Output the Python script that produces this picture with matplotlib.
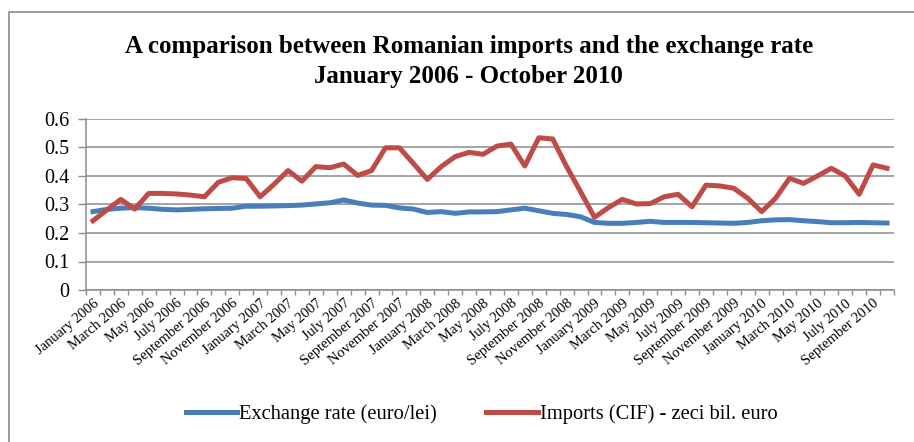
import matplotlib.pyplot as plt
from matplotlib.patches import Rectangle

months = ['January', 'February', 'March', 'April', 'May', 'June', 'July',
          'August', 'September', 'October', 'November', 'December']
periods = [f'{m} {y}' for y in range(2006, 2011) for m in months][:58]

exchange_rate = [0.275, 0.283, 0.287, 0.289, 0.287, 0.283, 0.281, 0.283, 0.285, 0.286,
                 0.287, 0.294, 0.294, 0.295, 0.296, 0.298, 0.302, 0.306, 0.316, 0.305,
                 0.298, 0.297, 0.288, 0.284, 0.272, 0.275, 0.269, 0.274, 0.274, 0.275,
                 0.281, 0.287, 0.278, 0.269, 0.265, 0.257, 0.237, 0.234, 0.234, 0.237,
                 0.241, 0.237, 0.237, 0.237, 0.236, 0.235, 0.234, 0.237, 0.243, 0.246,
                 0.247, 0.243, 0.240, 0.236, 0.236, 0.237, 0.236, 0.235]

imports = [0.243, 0.281, 0.318, 0.284, 0.339, 0.339, 0.337, 0.333, 0.327, 0.378,
           0.394, 0.391, 0.327, 0.371, 0.419, 0.382, 0.433, 0.429, 0.442, 0.402,
           0.419, 0.499, 0.499, 0.444, 0.388, 0.433, 0.468, 0.483, 0.476, 0.505,
           0.512, 0.435, 0.534, 0.530, 0.433, 0.345, 0.255, 0.289, 0.318, 0.302,
           0.303, 0.327, 0.336, 0.292, 0.368, 0.365, 0.357, 0.322, 0.275, 0.322,
           0.392, 0.374, 0.400, 0.427, 0.400, 0.336, 0.439, 0.427]

plt.rcParams['font.family'] = ['Liberation Serif', 'DejaVu Serif']

fig = plt.figure(figsize=(9.14, 4.42), dpi=100)
ax = fig.add_axes([86/914, 1-290/442, 808/914, 171/442])

# outer chart frame
fig.patches.append(Rectangle((9/914, -0.1), 1.1, 1-12/442+0.1, transform=fig.transFigure,
                             fill=False, edgecolor='#8c8c8c', linewidth=1.2))

x = list(range(len(periods)))
ax.plot(x, exchange_rate, color='#4A7EBB', linewidth=3.6, solid_joinstyle='round',
        label='Exchange rate (euro/lei)')
ax.plot(x, imports, color='#BE4B48', linewidth=3.6, solid_joinstyle='round',
        label='Imports (CIF) - zeci bil. euro')

ax.set_xlim(-0.5, len(periods) - 0.5)
ax.set_ylim(0, 0.6)
ax.set_yticks([0, 0.1, 0.2, 0.3, 0.4, 0.5, 0.6])
ax.set_yticklabels(['0', '0.1', '0.2', '0.3', '0.4', '0.5', '0.6'], fontsize=14.5)
ax.grid(axis='y', color='#8c8c8c', linewidth=1.1)
ax.set_axisbelow(True)

# tick marks between categories, labels every second month
ax.set_xticks([i - 0.5 for i in range(len(periods) + 1)])
ax.set_xticklabels([])
ax.set_xticks(x[::2], minor=True)
ax.set_xticklabels(periods[::2], minor=True, rotation=40, ha='right',
                   rotation_mode='anchor', fontsize=10.5)
ax.tick_params(axis='x', which='major', length=3.5, color='#8c8c8c', width=1)
ax.tick_params(axis='x', which='minor', length=0, pad=5)
ax.tick_params(axis='y', length=6, color='#8c8c8c', width=1, pad=6)

for side in ['top', 'right']:
    ax.spines[side].set_visible(False)
for side in ['left', 'bottom']:
    ax.spines[side].set_color('#8c8c8c')
    ax.spines[side].set_linewidth(1.1)

fig.text(0.513, 1-53/442, 'A comparison between Romanian imports and the exchange rate',
         ha='center', va='baseline', fontsize=18, fontweight='bold')
fig.text(0.513, 1-83/442, 'January 2006 - October 2010',
         ha='center', va='baseline', fontsize=18, fontweight='bold')

fig.legend(loc='center', bbox_to_anchor=(0.527, 1-414/442), ncol=2, frameon=False,
           fontsize=14.8, handlelength=2.5, handletextpad=0.1, columnspacing=2.4)

fig.savefig('out.png', dpi=100)
